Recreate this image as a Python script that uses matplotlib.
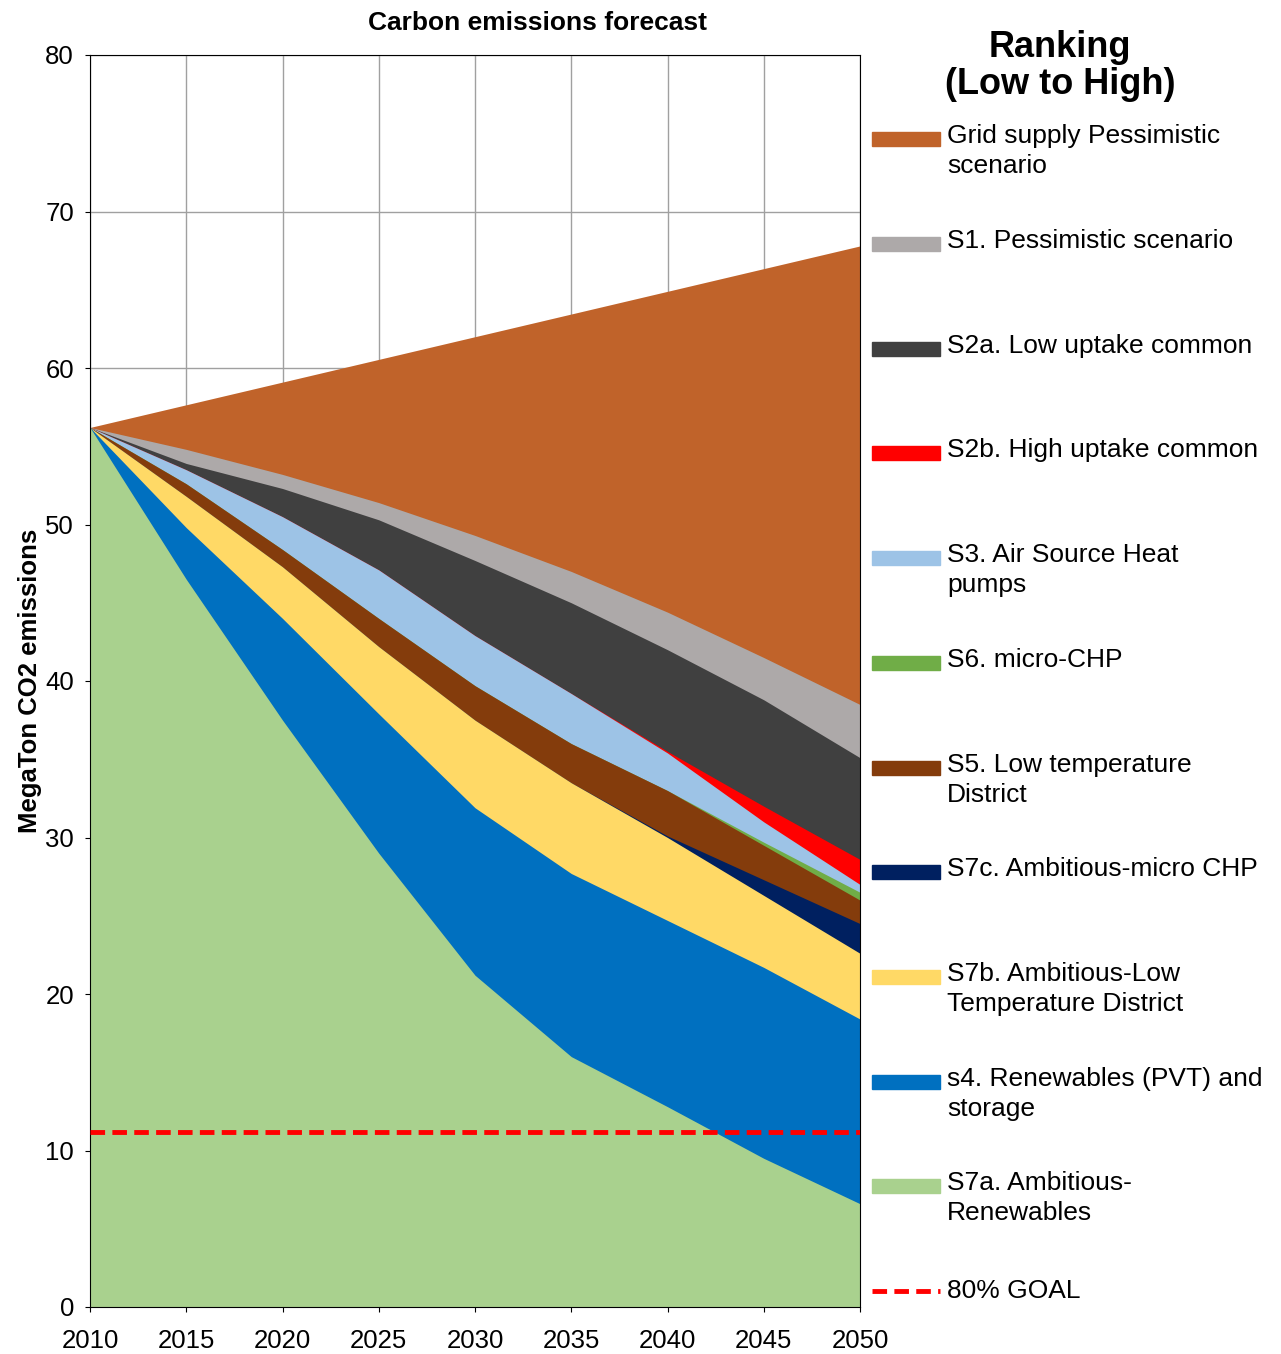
import matplotlib
matplotlib.use("Agg")
import matplotlib.pyplot as plt
from matplotlib.patches import Rectangle
from matplotlib.lines import Line2D

plt.rcParams['font.family'] = ['Liberation Sans', 'DejaVu Sans']

years = [2010, 2015, 2020, 2025, 2030, 2035, 2040, 2045, 2050]
grid_pess = [56.2, 57.65, 59.1, 60.55, 62.0, 63.45, 64.9, 66.35, 67.8]
s1 = [56.2, 54.8, 53.2, 51.4, 49.3, 47.0, 44.4, 41.5, 38.5]
s2a = [56.2, 53.9, 52.3, 50.3, 47.7, 45.0, 42.0, 38.8, 35.1]
s2b = [56.2, 53.5, 50.5, 47.1, 42.9, 39.2, 35.5, 32.0, 28.6]
s3 = [56.2, 53.5, 50.5, 47.1, 42.9, 39.2, 35.4, 31.0, 27.0]
s6 = [56.2, 52.6, 48.4, 44.0, 39.7, 36.0, 33.0, 29.7, 26.5]
s5 = [56.2, 52.6, 48.4, 44.0, 39.7, 36.0, 33.0, 29.5, 26.0]
s7c = [56.2, 51.8, 47.3, 42.2, 37.5, 33.5, 30.1, 27.3, 24.5]
s7b = [56.2, 51.8, 47.3, 42.2, 37.5, 33.5, 30.0, 26.3, 22.6]
s4 = [56.2, 49.8, 44.0, 37.9, 31.9, 27.7, 24.7, 21.7, 18.4]
s7a = [56.2, 46.5, 37.5, 29.0, 21.2, 16.0, 12.8, 9.5, 6.6]
goal = 11.2

series = [
    ("Grid supply Pessimistic\nscenario", grid_pess, "#C0632A"),
    ("S1. Pessimistic scenario", s1, "#ADA9A9"),
    ("S2a. Low uptake common", s2a, "#404040"),
    ("S2b. High uptake common", s2b, "#FF0000"),
    ("S3. Air Source Heat\npumps", s3, "#9DC3E6"),
    ("S6. micro-CHP", s6, "#70AD47"),
    ("S5. Low temperature\nDistrict", s5, "#843C0C"),
    ("S7c. Ambitious-micro CHP", s7c, "#002060"),
    ("S7b. Ambitious-Low\nTemperature District", s7b, "#FFD966"),
    ("s4. Renewables (PVT) and\nstorage", s4, "#0070C0"),
    ("S7a. Ambitious-\nRenewables", s7a, "#A9D18E"),
]

W, H = 1281, 1354
fig = plt.figure(figsize=(W/100, H/100), dpi=100)
ax = fig.add_axes([90/W, 1-1307/H, 770/W, 1252/H])
for lab, vals, col in series:
    ax.fill_between(years, 0, vals, color=col, lw=0, zorder=2)
ax.axhline(goal, color="#FF0000", ls=(0, (3, 1.5)), lw=3.5, zorder=3)
ax.set_xlim(2010, 2050)
ax.set_ylim(0, 80)
ax.set_xticks(years)
ax.set_yticks(range(0, 81, 10))
ax.grid(True, color="#A0A0A0", lw=1, zorder=0)
ax.set_axisbelow(True)
ax.tick_params(labelsize=18.5)
ax.tick_params(axis="x", pad=12)
ax.tick_params(axis="y", pad=8)
ax.set_ylabel("MegaTon CO2 emissions", fontsize=18.5, fontweight="bold", labelpad=2)
fig.text(538/W, 1-23/H, "Carbon emissions forecast", ha="center", va="center",
         fontsize=19, fontweight="bold")
for s in ax.spines.values():
    s.set_color("black")

fig.text(1060/W, 1-66/H, "Ranking\n(Low to High)", ha="center", va="center",
         fontsize=26, fontweight="bold", linespacing=1.1)
ys = [139, 244, 349, 453, 558, 663, 768, 872, 977, 1082, 1186]
for (lab, vals, col), y in zip(series, ys):
    fig.patches.append(Rectangle((872/W, 1-(y+7)/H), 68/W, 14/H, color=col,
                                 transform=fig.transFigure))
    fig.text(947/W, 1-(y-15)/H, lab, ha="left", va="top", fontsize=19, linespacing=1.3)
fig.lines.append(Line2D([872/W, 940/W], [1-1291/H]*2, color="#FF0000", lw=3.5,
                        ls=(0, (3, 1.5)), transform=fig.transFigure))
fig.text(947/W, 1-1291/H, "80% GOAL", ha="left", va="center", fontsize=19)
fig.savefig("out.png", dpi=100)
